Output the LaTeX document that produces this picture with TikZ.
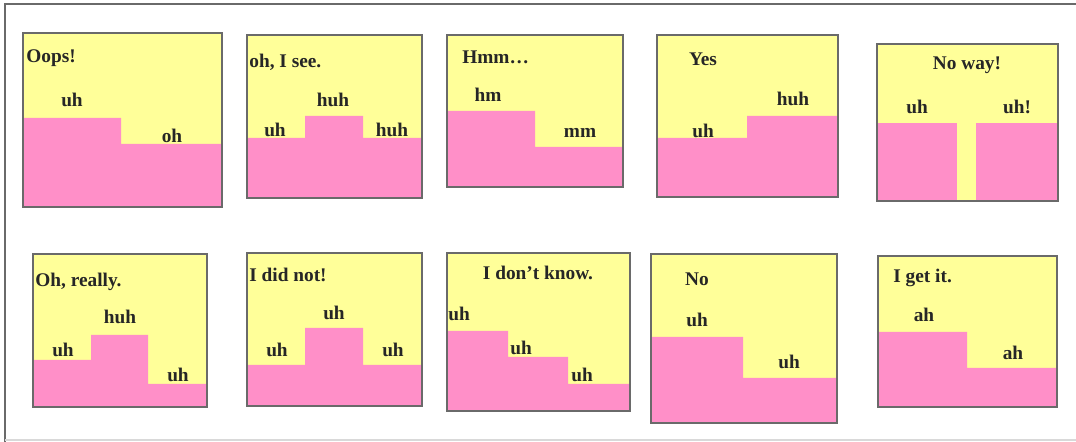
\documentclass[tikz,border=0pt]{standalone}
\usepackage{fontspec}
\setmainfont{Liberation Serif}
\usetikzlibrary{positioning}

\definecolor{panelyellow}{HTML}{FFFF99}
\definecolor{panelpink}{HTML}{FF8FC8}
\definecolor{panelgray}{HTML}{6A6A6A}

\tikzset{
  panel/.style={fill=panelyellow, draw=panelgray, line width=0.8pt},
  tone/.style={fill=panelpink, draw=none},
  frame/.style={draw=panelgray, line width=0.8pt},
  word/.style={font=\fontsize{11}{13}\selectfont\bfseries, inner sep=0pt, text=black!85},
  title/.style={word, anchor=west}
}

\begin{document}
\begin{tikzpicture}[x=0.02cm, y=-0.02cm]
        \useasboundingbox (0,0) rectangle (1076,442);
        \draw [frame] (5,442) -- (5,4) -- (1076,4);
        \draw [draw=black!15, line width=0.6pt] (5,440) -- (1076,440);

        % top row
        \fill [panelyellow] (23,33) rectangle (222,207);
        \fill [tone] (23,118) -- (121,118) -- (121,144) -- (222,144) -- (222,207) -- (23,207) -- cycle;
        \draw [panel, fill=none] (23,33) rectangle (222,207);
        \node [title] (oops) at (26,58) {Oops!};
        \node [word] (oopsa) at (72,100) {uh};
        \node [word] (oopsb) at (172,136) {oh};

        \fill [panelyellow] (247,35) rectangle (422,198);
        \fill [tone] (247,138) -- (305,138) -- (305,116) -- (363,116) -- (363,138) -- (422,138) -- (422,198) -- (247,198) -- cycle;
        \draw [panel, fill=none] (247,35) rectangle (422,198);
        \node [title] (isee) at (249,62) {oh, I see.};
        \node [word] (iseeb) at (333,100) {huh};
        \node [word] (iseea) at (275,130) {uh};
        \node [word] (iseec) at (392,130) {huh};

        \fill [panelyellow] (447,35) rectangle (623,187);
        \fill [tone] (447,111) -- (535,111) -- (535,147) -- (623,147) -- (623,187) -- (447,187) -- cycle;
        \draw [panel, fill=none] (447,35) rectangle (623,187);
        \node [title] (hmm) at (462,57) {Hmm…};
        \node [word] (hmma) at (488,95) {hm};
        \node [word] (hmmb) at (580,133) {mm};

        \fill [panelyellow] (657,35) rectangle (838,197);
        \fill [tone] (657,138) -- (747,138) -- (747,116) -- (838,116) -- (838,197) -- (657,197) -- cycle;
        \draw [panel, fill=none] (657,35) rectangle (838,197);
        \node [word] (yes) at (703,59) {Yes};
        \node [word] (yesa) at (703,131) {uh};
        \node [word] (yesb) at (793,99) {huh};

        \fill [panelyellow] (877,44) rectangle (1058,201);
        \fill [tone] (877,123) rectangle (957,201);
        \fill [tone] (976,123) rectangle (1058,201);
        \draw [panel, fill=none] (877,44) rectangle (1058,201);
        \node [word] (noway) at (967,65) {No way!};
        \node [word] (nowaya) at (917,107) {uh};
        \node [word] (nowayb) at (1017,107) {uh!};

        % bottom row
        \fill [panelyellow] (33,254) rectangle (207,407);
        \fill [tone] (33,360) -- (91,360) -- (91,335) -- (148,335) -- (148,384) -- (207,384) -- (207,407) -- (33,407) -- cycle;
        \draw [panel, fill=none] (33,254) rectangle (207,407);
        \node [title] (really) at (35,282) {Oh, really.};
        \node [word] (reallyb) at (120,317) {huh};
        \node [word] (reallya) at (63,350) {uh};
        \node [word] (reallyc) at (178,375) {uh};

        \fill [panelyellow] (247,253) rectangle (422,406);
        \fill [tone] (247,365) -- (305,365) -- (305,328) -- (363,328) -- (363,365) -- (422,365) -- (422,406) -- (247,406) -- cycle;
        \draw [panel, fill=none] (247,253) rectangle (422,406);
        \node [title] (didnot) at (249,275) {I did not!};
        \node [word] (didnotb) at (334,313) {uh};
        \node [word] (didnota) at (277,350) {uh};
        \node [word] (didnotc) at (393,350) {uh};

        \fill [panelyellow] (447,253) rectangle (630,411);
        \fill [tone] (447,331) -- (508,331) -- (508,357) -- (568,357) -- (568,384) -- (630,384) -- (630,411) -- (447,411) -- cycle;
        \draw [panel, fill=none] (447,253) rectangle (630,411);
        \node [word] (dontknow) at (538,273) {I don't know.};
        \node [word] (dontknowa) at (459,314) {uh};
        \node [word] (dontknowb) at (521,348) {uh};
        \node [word] (dontknowc) at (582,375) {uh};

        \fill [panelyellow] (651,254) rectangle (837,423);
        \fill [tone] (651,337) -- (743,337) -- (743,378) -- (837,378) -- (837,423) -- (651,423) -- cycle;
        \draw [panel, fill=none] (651,254) rectangle (837,423);
        \node [word] (no) at (697,279) {No};
        \node [word] (noa) at (697,320) {uh};
        \node [word] (nob) at (789,362) {uh};

        \fill [panelyellow] (878,256) rectangle (1057,407);
        \fill [tone] (878,332) -- (967,332) -- (967,368) -- (1057,368) -- (1057,407) -- (878,407) -- cycle;
        \draw [panel, fill=none] (878,256) rectangle (1057,407);
        \node [title] (getit) at (893,278) {I get it.};
        \node [word] (getita) at (924,315) {ah};
        \node [word] (getitb) at (1013,353) {ah};
      \end{tikzpicture}
\end{document}
